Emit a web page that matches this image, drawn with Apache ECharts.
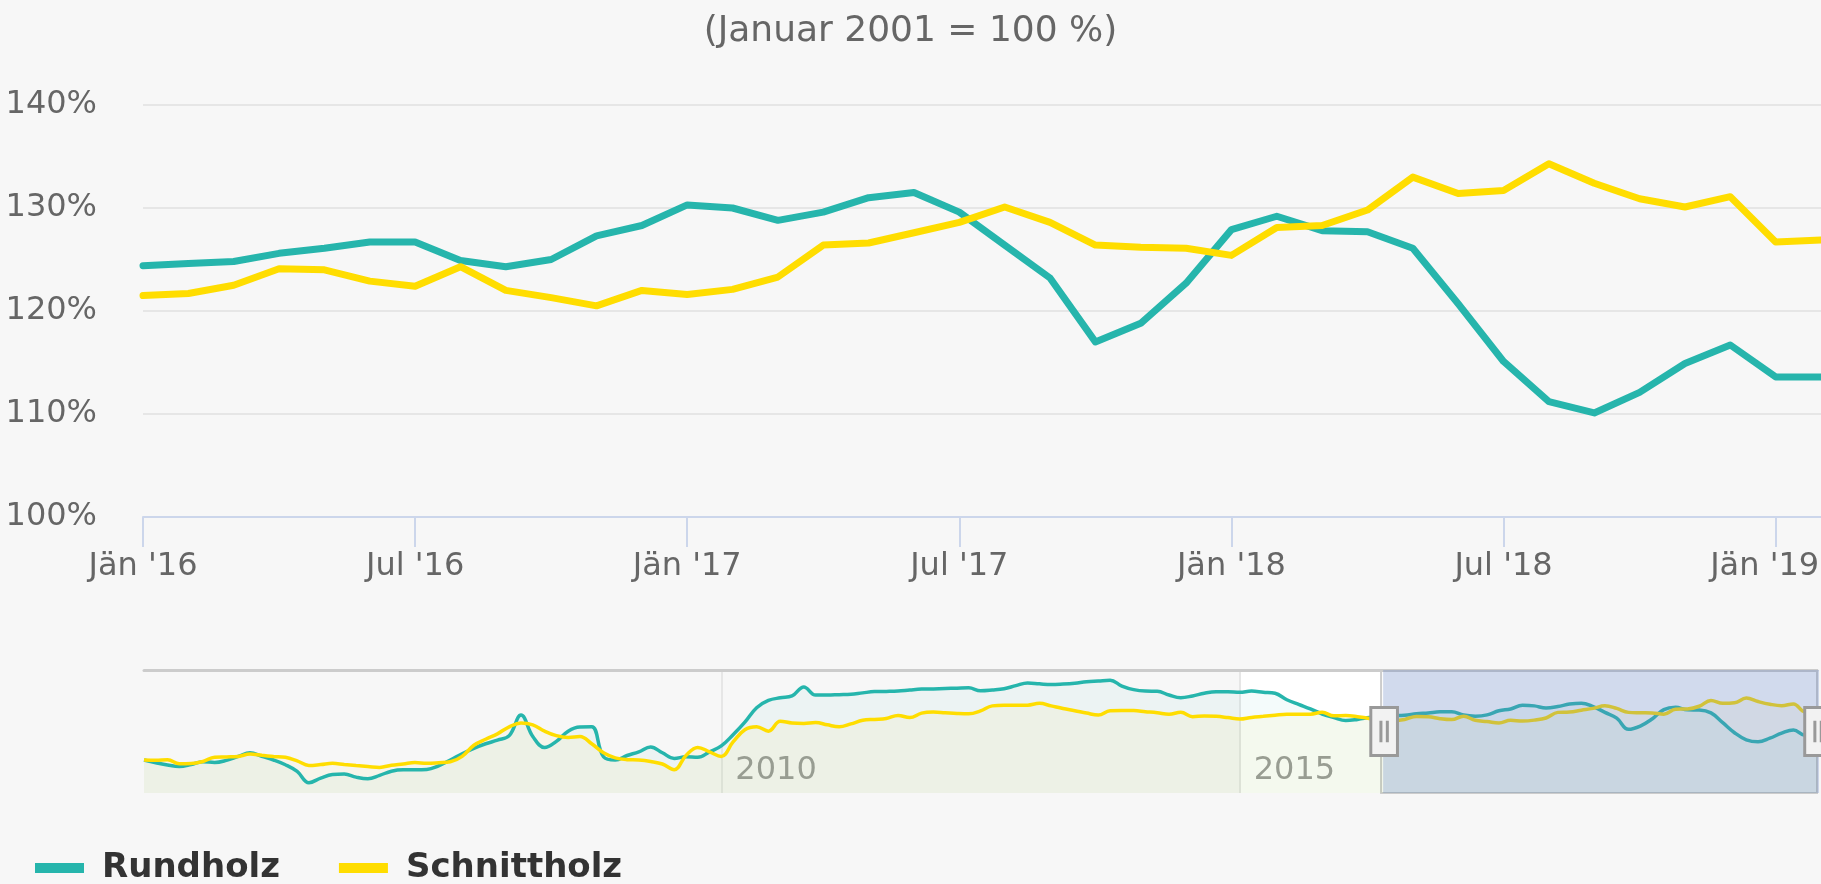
<!DOCTYPE html>
<html>
<head>
<meta charset="utf-8">
<title>Holzpreisindex</title>
<script src="https://cdn.jsdelivr.net/npm/echarts@6/dist/echarts.min.js"></script>
<style>
  html, body { margin: 0; padding: 0; background: #f7f7f7; }
  #main { width: 1821px; height: 884px; }
</style>
</head>
<body>
<div id="main"></div>
<script>
// Beobachtungszeitpunkte: anfangs quartalsweise / zweimonatlich, ab 2012 monatlich
function monthRange(y0, m0, y1, m1, step) {
    var out = [];
    var y = y0, m = m0;
    while (y < y1 || (y === y1 && m <= m1)) {
        out.push(y + '-' + (m < 10 ? '0' + m : '' + m));
        m += step;
        while (m > 12) { m -= 12; y += 1; }
    }
    return out;
}
var categories = [].concat(
    monthRange(2001, 1, 2002, 10, 3),
    monthRange(2003, 1, 2009, 9, 2),
    monthRange(2010, 1, 2011, 10, 3),
    monthRange(2012, 1, 2019, 2, 1)
);

// Rundholz (Januar 2001 = 100 %)
var rundholz = [
    // 2001 - 2009
    100.0, 98.5, 97.2, 96.4, 97.5, 99.1, 98.6, 99.8, 102.0, 104.0,
    102.0, 100.0, 97.4, 93.7, 87.4, 90.0, 92.0, 92.3, 90.5, 89.6,
    91.5, 93.8, 94.6, 94.6, 94.8, 96.8, 100.0, 103.5, 106.5, 109.0,
    111.0, 113.5, 124.9, 113.0, 106.9, 110.3, 116.0, 118.3, 118.4, 101.8,
    100.0, 102.5, 104.5, 107.2, 104.0, 100.9, 101.8, 101.5, 104.5,
    // 2010 - 2014
    107.8, 114.0, 121.0, 129.0, 133.0, 134.5, 135.5, 140.5, 136.0, 136.0,
    136.2, 136.4, 137.2, 137.9, 138.0, 138.2, 138.8, 139.3, 139.4, 139.6,
    139.8, 140.0, 138.4, 138.8, 139.5, 141.2, 142.7, 142.2, 141.8, 142.1,
    142.6, 143.4, 143.8, 144.2, 141.0, 139.0, 138.2, 138.1, 136.0, 134.5,
    135.5, 137.0, 137.8, 137.8,
    // 2015
    137.5, 138.2, 137.6, 137.0, 133.4, 130.8, 128.3, 125.5, 123.5, 121.9, 122.5, 123.5,
    // 2016
    124.4, 124.6, 124.8, 125.6, 126.1, 126.7, 126.7, 124.9, 124.3, 125.0, 127.3, 128.3,
    // 2017
    130.3, 130.0, 128.8, 129.6, 131.0, 131.5, 129.6, 126.4, 123.2, 117.0, 118.8, 122.7,
    // 2018
    127.9, 129.2, 127.8, 127.7, 126.1, 120.7, 115.1, 111.2, 110.1, 112.1, 114.9, 116.7,
    // 2019
    113.6, 113.6
];

// Schnittholz (Januar 2001 = 100 %)
var schnittholz = [
    // 2001 - 2009
    100.0, 99.8, 100.2, 97.9, 98.0, 99.2, 101.5, 101.7, 102.0, 103.3,
    102.6, 102.0, 101.5, 99.5, 97.0, 97.5, 98.2, 97.5, 96.9, 96.4,
    95.9, 97.1, 97.8, 98.6, 98.2, 98.5, 99.0, 102.0, 108.2, 111.5,
    114.5, 118.4, 120.5, 119.5, 116.0, 113.5, 112.5, 113.0, 109.0, 104.0,
    101.2, 100.2, 100.0, 99.2, 97.8, 94.6, 102.5, 107.0, 104.5,
    // 2010 - 2014
    102.0, 110.0, 116.8, 118.4, 116.0, 121.5, 120.5, 120.3, 120.8, 119.5,
    118.4, 120.0, 122.0, 122.5, 123.0, 124.7, 123.5, 126.0, 126.6, 126.2,
    125.8, 125.6, 127.2, 130.0, 130.3, 130.3, 130.4, 131.4, 130.0, 128.5,
    127.3, 126.0, 124.9, 127.3, 127.4, 127.4, 126.8, 126.2, 125.4, 126.4,
    124.0, 124.4, 124.2, 123.5,
    // 2015
    122.7, 123.6, 124.2, 124.8, 125.3, 125.3, 125.4, 126.4, 124.5, 124.6, 124.0, 123.0,
    // 2016
    121.5, 121.7, 122.5, 124.1, 124.0, 122.9, 122.4, 124.3, 122.0, 121.3, 120.5, 122.0,
    // 2017
    121.6, 122.1, 123.3, 126.4, 126.6, 127.6, 128.6, 130.1, 128.6, 126.4, 126.2, 126.1,
    // 2018
    125.4, 128.1, 128.3, 129.8, 133.0, 131.4, 131.7, 134.3, 132.4, 130.9, 130.1, 131.1,
    // 2019
    126.7, 126.9
];

var yTicks = [100, 110, 120, 130, 140];
var navYears = ['2010-01', '2015-01'];
var windowStart = '2016-01';
var windowEnd = '2019-02';

var teal = '#26b5ac';
var yellow = '#ffdd00';
var fontFamily = "'DejaVu Sans', Verdana, sans-serif";

var myChart = echarts.init(document.getElementById('main'));

function isHalfYear(idx, val) {
    return /-(01|07)$/.test(val);
}
function isNavYear(idx, val) {
    return navYears.indexOf(val) >= 0;
}
function isNavBand(idx, val) {
    return idx === 0 || idx === categories.length - 1 || navYears.indexOf(val) >= 0;
}

var option = {
    backgroundColor: '#f7f7f7',
    animation: false,
    textStyle: { fontFamily: fontFamily },
    title: {
        text: '(Januar 2001 = 100 %)',
        left: 'center',
        top: 14,
        padding: 0,
        textStyle: { color: '#666666', fontSize: 36, fontWeight: 'normal', fontFamily: fontFamily }
    },
    legend: {
        data: ['Rundholz', 'Schnittholz'],
        left: 35,
        top: 851,
        padding: 0,
        icon: 'rect',
        itemWidth: 49,
        itemHeight: 10,
        itemGap: 59,
        selectedMode: false,
        textStyle: {
            color: '#333333', fontSize: 34, fontWeight: 'bold', fontFamily: fontFamily,
            padding: [0, 0, 0, 13]
        }
    },
    grid: [
        { left: 143, right: 0, top: 105, height: 412, outerBoundsMode: 'none' },
        { left: 144, right: 4, top: 670, height: 123, outerBoundsMode: 'none' }
    ],
    xAxis: [
        {
            type: 'category',
            gridIndex: 0,
            data: categories,
            boundaryGap: false,
            axisLine: { lineStyle: { color: '#ccd6eb', width: 2 } },
            axisTick: { interval: isHalfYear, length: 30, lineStyle: { color: '#ccd6eb', width: 2 } },
            axisLabel: {
                interval: isHalfYear,
                margin: 34,
                color: '#666666',
                fontSize: 32,
                fontFamily: fontFamily,
                formatter: function (val) {
                    var m = val.slice(5, 7);
                    var label = (m === '01' ? 'J\u00e4n \'' : 'Jul \'') + val.slice(2, 4);
                    // letztes Label wie im Original vom Rand weg schieben
                    return val === '2019-01' ? '{edge|' + label + '}' : label;
                },
                rich: { edge: { padding: [0, 22, 0, 0], fontSize: 32, color: '#666666', fontFamily: fontFamily } }
            },
            splitLine: { show: false }
        },
        {
            type: 'category',
            gridIndex: 1,
            data: categories,
            boundaryGap: false,
            axisLine: { show: false },
            axisTick: { show: false },
            axisLabel: {
                inside: true,
                interval: isNavYear,
                formatter: function (val) { return val.slice(0, 4); },
                align: 'left',
                padding: [0, 0, 0, 14],
                margin: 6,
                color: '#999999',
                fontSize: 32,
                fontFamily: fontFamily
            },
            splitLine: { show: true, interval: isNavYear, lineStyle: { color: '#e6e6e6', width: 2 } },
            splitArea: {
                show: true,
                interval: isNavBand,
                areaStyle: { color: ['rgba(0,0,0,0)', 'rgba(0,0,0,0)', '#ffffff'] }
            }
        },
        {
            // obere Begrenzungslinie des Navigators
            type: 'value',
            gridIndex: 1,
            position: 'top',
            min: 0,
            max: 1,
            axisLine: { show: true, lineStyle: { color: '#cccccc', width: 3 } },
            axisTick: { show: false },
            axisLabel: { show: false },
            splitLine: { show: false }
        }
    ],
    yAxis: [
        {
            type: 'value',
            gridIndex: 0,
            min: yTicks[0],
            max: yTicks[yTicks.length - 1],
            interval: 10,
            axisLine: { show: false },
            axisTick: { show: false },
            axisLabel: { formatter: '{value}%', color: '#666666', fontSize: 32, margin: 46, fontFamily: fontFamily },
            splitLine: { lineStyle: { color: '#e6e6e6', width: 2 } }
        },
        {
            type: 'value',
            gridIndex: 1,
            show: false,
            min: function (v) { return v.min - 0.1 * (v.max - v.min); },
            max: function (v) { return v.max + 0.1 * (v.max - v.min); },
            splitLine: { show: false }
        }
    ],
    dataZoom: [
        {
            type: 'slider',
            xAxisIndex: 0,
            startValue: windowStart,
            endValue: windowEnd,
            left: 144,
            right: 4,
            top: 670,
            height: 123,
            showDataShadow: false,
            showDetail: false,
            brushSelect: false,
            moveHandleSize: 0,
            backgroundColor: 'rgba(0,0,0,0)',
            borderColor: 'rgba(0,0,0,0)',
            fillerColor: 'rgba(102,133,194,0.3)',
            handleIcon: 'path://M0,0H10V18H0Z M3.8,5V13 M6.2,5V13',
            handleSize: 48,
            handleStyle: { color: '#f2f2f2', borderColor: '#999999', borderWidth: 3 },
            emphasis: { handleStyle: { color: '#f2f2f2', borderColor: '#999999', borderWidth: 3 } }
        }
    ],
    series: [
        {
            name: 'Rundholz',
            type: 'line',
            xAxisIndex: 0,
            yAxisIndex: 0,
            data: rundholz,
            symbol: 'none',
            itemStyle: { color: teal },
            lineStyle: { color: teal, width: 7, join: 'round', cap: 'round' }
        },
        {
            name: 'Schnittholz',
            type: 'line',
            xAxisIndex: 0,
            yAxisIndex: 0,
            data: schnittholz,
            symbol: 'none',
            itemStyle: { color: yellow },
            lineStyle: { color: yellow, width: 7, join: 'round', cap: 'round' }
        },
        {
            name: 'Rundholz',
            type: 'line',
            xAxisIndex: 1,
            yAxisIndex: 1,
            data: rundholz,
            symbol: 'none',
            smooth: 0.4,
            silent: true,
            itemStyle: { color: teal },
            lineStyle: { color: teal, width: 3.5 },
            areaStyle: { color: teal, opacity: 0.05 }
        },
        {
            name: 'Schnittholz',
            type: 'line',
            xAxisIndex: 1,
            yAxisIndex: 1,
            data: schnittholz,
            symbol: 'none',
            smooth: 0.4,
            silent: true,
            itemStyle: { color: yellow },
            lineStyle: { color: yellow, width: 3.5 },
            areaStyle: { color: yellow, opacity: 0.05 },
            markArea: {
                silent: true,
                itemStyle: { color: 'rgba(0,0,0,0)', borderColor: '#cccccc', borderWidth: 2 },
                data: [[{ xAxis: windowStart }, { xAxis: windowEnd }]]
            }
        }
    ]
};
myChart.setOption(option);
</script>
</body>
</html>
